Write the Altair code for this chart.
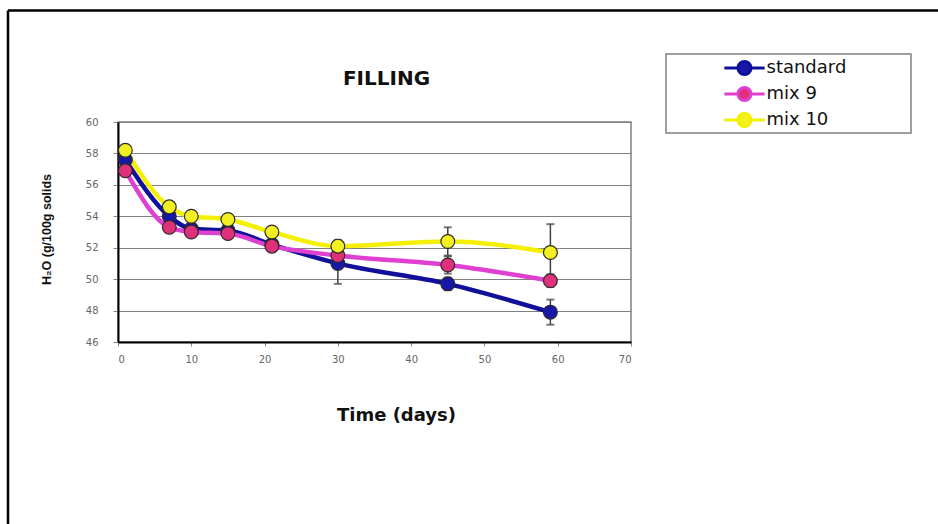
import altair as alt
import pandas as pd

# ---- data ----
days = [1, 7, 10, 15, 21, 30, 45, 59]
series_names = ["standard", "mix 9", "mix 10"]
standard = [57.6, 54.0, 53.2, 53.1, 52.2, 51.0, 49.7, 47.9]
mix9 = [56.9, 53.3, 53.0, 52.9, 52.1, 51.5, 50.9, 49.9]
mix10 = [58.2, 54.6, 54.0, 53.8, 53.0, 52.1, 52.4, 51.7]
standard_err = [0.3, 0.3, 0.2, 0.2, 0.2, 1.3, 0.4, 0.8]
mix9_err = [0.2, 0.3, 0.2, 0.3, 0.2, 0.3, 0.55, 0.4]
mix10_err = [0.2, 0.2, 0.2, 0.2, 0.2, 0.4, 0.9, 1.8]
x_ticks = [0, 10, 20, 30, 40, 50, 60, 70]
y_ticks = [46, 48, 50, 52, 54, 56, 58, 60]

line_colors = ["#10109A", "#E040D0", "#F5F000"]
fill_colors = ["#1818A8", "#E0307A", "#F2F020"]

rows = []
for si, (name, vals, errs) in enumerate(zip(series_names, [standard, mix9, mix10],
                                             [standard_err, mix9_err, mix10_err])):
    for d, v, e in zip(days, vals, errs):
        rows.append({"series": name, "order": si, "day": d, "value": v,
                     "lo": v - e, "hi": v + e})
df = pd.DataFrame(rows)
one = pd.DataFrame({"k": [0]})

FONT = "DejaVu Sans"

x_scale = alt.Scale(domain=[0, 70], nice=False)
y_scale = alt.Scale(domain=[46, 60], nice=False, zero=False)

x_axis = alt.Axis(
    values=x_ticks, grid=False, title="Time (days)", titleFont=FONT, titleFontSize=18,
    titleFontWeight="bold", titleColor="#111", titleX=278, titleY=78,
    titleBaseline="alphabetic", titleAlign="center",
    labelFont=FONT, labelFontSize=10, labelColor="#666", labelPadding=8,
    tickSize=4, tickColor="#888", domainColor="#000", domainWidth=2)
y_axis = alt.Axis(
    values=y_ticks, grid=True, gridColor="#808080", gridWidth=1,
    title="H₂O (g/100g solids", titleFont="Liberation Sans", titleFontSize=12.5,
    titleFontWeight="bold", titleColor="#111", titleX=-72, titleY=107,
    titleAngle=270, titleBaseline="middle", titleAlign="center",
    labelFont=FONT, labelFontSize=10, labelColor="#666", labelPadding=15,
    tickSize=5, tickColor="#888", domainColor="#000", domainWidth=2)

legend_props = dict(
    title=None, orient="none", legendX=617.5, legendY=-63,
    symbolType="M-3.1,0H-1M1,0H3.1M-1,0A1,1 0 1,1 1,0A1,1 0 1,1 -1,0Z",
    symbolSize=169, symbolStrokeWidth=3, labelFont=FONT, labelFontSize=18,
    labelColor="#111", labelOffset=13, rowPadding=0, padding=0)

frame_top = alt.Chart(one).mark_rule(color="#000", strokeWidth=2.5).encode(
    x=alt.value(-110), x2=alt.value(820), y=alt.value(-111.5))
frame_left = alt.Chart(one).mark_rule(color="#000", strokeWidth=2.5).encode(
    x=alt.value(-110), y=alt.value(-111.5), y2=alt.value(402))
legend_box = alt.Chart(one).mark_rect(fill="white", stroke="#808080", strokeWidth=1.5).encode(
    x=alt.value(548), x2=alt.value(793), y=alt.value(-68), y2=alt.value(11))

base = alt.Chart(df)
X = alt.X("day:Q", scale=x_scale, axis=x_axis)

lines = base.mark_line(strokeWidth=4.5, interpolate="monotone").encode(
    x=X, y=alt.Y("value:Q", scale=y_scale, axis=y_axis),
    stroke=alt.Stroke("series:N", scale=alt.Scale(domain=series_names, range=line_colors),
                      legend=alt.Legend(**legend_props)),
    order="day:Q",
)

err = base.mark_rule(color="#404040", strokeWidth=1.5).encode(
    x=X, y=alt.Y("lo:Q", scale=y_scale, axis=y_axis), y2="hi:Q",
)
cap_hi = base.mark_tick(orient="horizontal", color="#404040", size=8, thickness=2).encode(
    x=X, y=alt.Y("hi:Q", scale=y_scale, axis=y_axis),
)
cap_lo = base.mark_tick(orient="horizontal", color="#404040", size=8, thickness=2).encode(
    x=X, y=alt.Y("lo:Q", scale=y_scale, axis=y_axis),
)

pts = base.mark_circle(size=190, opacity=1, stroke="#2a2a2a", strokeWidth=1.2).encode(
    x=X, y=alt.Y("value:Q", scale=y_scale, axis=y_axis),
    fill=alt.Fill("series:N", scale=alt.Scale(domain=series_names, range=fill_colors),
                  legend=alt.Legend(**legend_props)),
)

chart = alt.layer(
    frame_top, frame_left, legend_box, lines, err, cap_hi, cap_lo, pts
).properties(
    width=513, height=220,
    title=alt.TitleParams("FILLING", font=FONT, fontSize=20, fontWeight="bold",
                          color="#111", anchor="middle", dx=12, offset=-95.5,
                          baseline="alphabetic", frame="group"),
    autosize=alt.AutoSizeParams(type="none"),
    padding={"left": 118, "top": 122, "right": 307, "bottom": 182},
    background="white",
).configure_view(stroke="#808080", strokeWidth=1.5)

chart.save("out.html", embed_options={"renderer": "svg", "actions": False})
